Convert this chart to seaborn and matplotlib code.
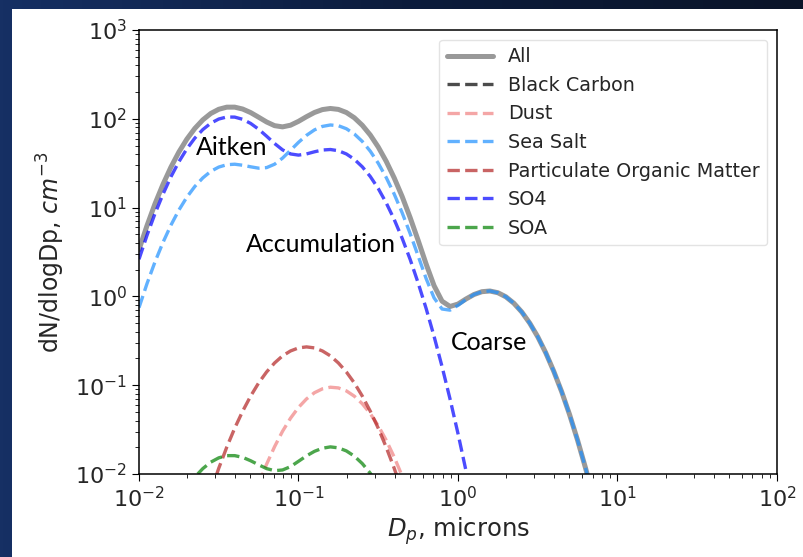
import numpy as np
import pandas as pd
import matplotlib
matplotlib.use("Agg")
import matplotlib.pyplot as plt
from matplotlib.patches import Rectangle
from matplotlib.colors import LinearSegmentedColormap
import seaborn as sns

_ = np.nan

# log10 of particle diameter (microns), grid read along the x axis
DP_EXP = [-2.00, -1.95, -1.90, -1.85, -1.80, -1.75, -1.70, -1.65, -1.60, -1.55,
          -1.50, -1.45, -1.40, -1.35, -1.30, -1.25, -1.20, -1.15, -1.10, -1.05,
          -1.00, -0.95, -0.90, -0.85, -0.80, -0.75, -0.70, -0.65, -0.60, -0.55,
          -0.50, -0.45, -0.40, -0.35, -0.30, -0.25, -0.20, -0.15, -0.10, -0.05,
          0.00, 0.05, 0.10, 0.15, 0.20, 0.25, 0.30, 0.35, 0.40, 0.45,
          0.50, 0.55, 0.60, 0.65, 0.70, 0.75, 0.80, 0.85]

ALL = [3.36, 6.25, 11.0, 18.2, 28.5, 42.2, 59.0, 77.9, 97.2, 114.8,
       128.0, 135.2, 135.3, 128.8, 117.5, 104.2, 92.1, 83.7, 81.1, 84.7,
       93.6, 105.6, 117.8, 127.0, 130.7, 127.6, 117.8, 102.7, 84.5, 65.7,
       48.1, 33.2, 21.6, 13.3, 7.71, 4.28, 2.32, 1.32, 0.883, 0.770,
       0.820, 0.935, 1.05, 1.13, 1.15, 1.10, 0.990, 0.838, 0.667, 0.499,
       0.351, 0.232, 0.144, 0.0844, 0.0464, 0.0239, 0.0116, 0.0053]

BLACK_CARBON = [_, _, _, _, _, _, _, _, _, _,
                _, _, _, _, _, _, 0.0020, 0.0028, 0.0036, 0.0042,
                0.0046, 0.0047, 0.0045, 0.0040, 0.0033, 0.0025, 0.0018, _, _, _,
                _, _, _, _, _, _, _, _, _, _,
                _, _, _, _, _, _, _, _, _, _,
                _, _, _, _, _, _, _, _]

DUST = [_, _, _, _, _, _, _, _, _, _,
        _, _, _, _, _, 0.00765, 0.0129, 0.0203, 0.0303, 0.0425,
        0.0562, 0.0700, 0.0823, 0.0910, 0.0949, 0.0932, 0.0863, 0.0752, 0.0618, 0.0479,
        0.0349, 0.0240, 0.0155, 0.00948, _, _, _, _, _, _,
        _, _, _, _, _, _, _, _, _, _,
        _, _, _, _, _, _, _, _]

SEA_SALT = [0.747, 1.39, 2.44, 4.04, 6.33, 9.37, 13.1, 17.3, 21.6, 25.6,
            28.6, 30.4, 30.8, 30.0, 28.8, 27.8, 28.2, 30.8, 36.1, 44.2,
            54.3, 65.1, 75.0, 82.1, 85.2, 83.6, 77.3, 67.5, 55.6, 43.2,
            31.6, 21.8, 14.2, 8.74, 5.10, 2.86, 1.59, 0.962, 0.721, 0.700,
            0.792, 0.924, 1.05, 1.13, 1.15, 1.10, 0.990, 0.838, 0.667, 0.499,
            0.351, 0.232, 0.144, 0.0844, 0.0464, 0.0239, 0.0116, 0.0053]

POM = [_, _, _, _, _, _, _, _, _, 0.00635,
       0.0116, 0.0200, 0.0328, 0.0510, 0.0754, 0.106, 0.141, 0.178, 0.214, 0.243,
       0.263, 0.270, 0.263, 0.243, 0.214, 0.178, 0.141, 0.106, 0.0754, 0.0510,
       0.0328, 0.0200, 0.0116, 0.00635, _, _, _, _, _, _,
       _, _, _, _, _, _, _, _, _, _,
       _, _, _, _, _, _, _, _]

SO4 = [2.62, 4.86, 8.53, 14.1, 22.2, 32.8, 45.9, 60.6, 75.6, 89.2,
       99.4, 104.8, 104.5, 98.7, 88.7, 76.3, 63.7, 52.7, 44.7, 40.2,
       39.0, 40.2, 42.5, 44.5, 45.1, 43.7, 40.2, 35.0, 28.8, 22.4,
       16.4, 11.3, 7.35, 4.51, 2.61, 1.42, 0.733, 0.355, 0.162, 0.070,
       0.0285, 0.0109, 0.0039, _, _, _, _, _, _, _,
       _, _, _, _, _, _, _, _]

SOA = [_, _, _, _, _, _, 0.00699, 0.00923, 0.0115, 0.0136,
       0.0152, 0.0161, 0.0161, 0.0154, 0.0141, 0.0127, 0.0115, 0.0109, 0.0111, 0.0121,
       0.0139, 0.0160, 0.0180, 0.0195, 0.0202, 0.0197, 0.0182, 0.0159, 0.0131, 0.0102,
       0.00744, _, _, _, _, _, _, _, _, _,
       _, _, _, _, _, _, _, _, _, _,
       _, _, _, _, _, _, _, _]

SPECIES = ["Black Carbon", "Dust", "Sea Salt", "Particulate Organic Matter", "SO4", "SOA"]
SPECIES_VALUES = [BLACK_CARBON, DUST, SEA_SALT, POM, SO4, SOA]
SPECIES_COLORS = ["black", "lightcoral", "dodgerblue", "firebrick", "blue", "green"]

MODE_LABELS = ["Aitken", "Accumulation", "Coarse"]
MODE_POS = [(0.038, 48.0), (0.138, 3.8), (1.56, 0.30)]

sns.set_style("ticks")
plt.rcParams["font.family"] = ["DejaVu Sans"]

dp = np.power(10.0, np.array(DP_EXP))

fig = plt.figure(figsize=(8.04, 5.57), dpi=100)
fig.patch.set_facecolor("#0d1d3d")

# dark gradient frame behind the white figure area
bg = fig.add_axes([0, 0, 1, 1], zorder=-3)
bg.set_axis_off()
cmap = LinearSegmentedColormap.from_list("frame", ["#163064", "#0c1c3c", "#0a1428"])
grad = np.linspace(0, 1, 256).reshape(1, -1)
bg.imshow(grad, aspect="auto", cmap=cmap, extent=[0, 1, 0, 1])
bg.add_patch(Rectangle((12 / 804, 0), 1, (557 - 9) / 557, facecolor="white",
                       edgecolor="none", transform=bg.transAxes))
bg.set_xlim(0, 1)
bg.set_ylim(0, 1)

ax = fig.add_axes([139 / 804, 83 / 557, (777 - 139) / 804, (474 - 30) / 557])
ax.set_facecolor("white")
ax.set_xscale("log")
ax.set_yscale("log")

df_all = pd.DataFrame({"Dp": dp, "val": ALL})
sns.lineplot(data=df_all, x="Dp", y="val", ax=ax, color="gray", alpha=0.8,
             lw=3.6, label="All", estimator=None)

for name, vals, col in zip(SPECIES, SPECIES_VALUES, SPECIES_COLORS):
    d = pd.DataFrame({"Dp": dp, "val": vals}).dropna()
    sns.lineplot(data=d, x="Dp", y="val", ax=ax, color=col, alpha=0.7,
                 lw=2.4, linestyle="--", label=name, estimator=None)

for lab, (xx, yy) in zip(MODE_LABELS, MODE_POS):
    ax.text(xx, yy, lab, ha="center", va="center", fontsize=18,
            family=["Lato", "DejaVu Sans"], color="black")

ax.set_xlim(1e-2, 1e2)
ax.set_ylim(1e-2, 1e3)
ax.set_xlabel("$D_p$, microns", fontsize=17.5, labelpad=3)
ax.set_ylabel("dN/dlogDp, $cm^{-3}$", fontsize=17, labelpad=6)
ax.tick_params(axis="both", which="major", labelsize=16, length=5, color="black")
ax.tick_params(axis="both", which="minor", length=3, color="black")
for s in ax.spines.values():
    s.set_color("black")
    s.set_linewidth(1.1)

leg = ax.legend(loc="upper right", fontsize=13.8, handlelength=2.4,
                frameon=True, fancybox=True, framealpha=0.8, borderaxespad=0.5)
leg.get_frame().set_edgecolor("#dddddd")

fig.savefig("out.png", dpi=100, facecolor=fig.get_facecolor())
